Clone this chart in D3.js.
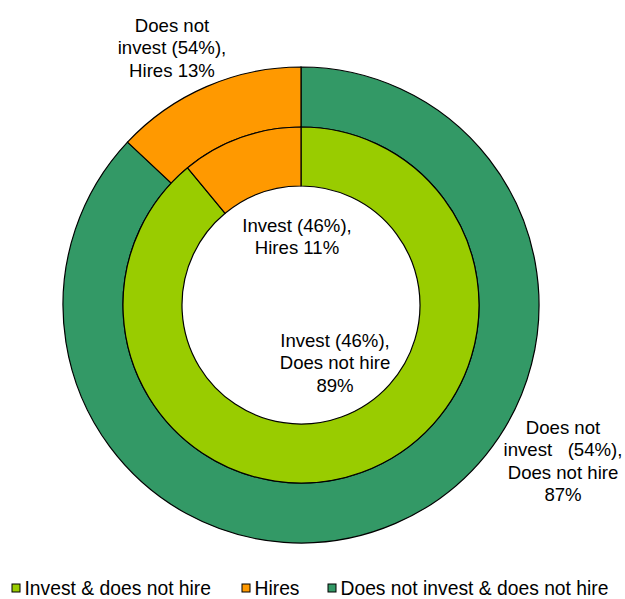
<!DOCTYPE html>
<html>
<head>
<meta charset="utf-8">
<script src="https://cdn.jsdelivr.net/npm/d3@7"></script>
<style>
  body { margin: 0; background: #fff; }
  text { font-family: "Liberation Sans", Arial, sans-serif; fill: #000; white-space: pre; }
</style>
</head>
<body>
<script>
// data
const categories = ["Invest & does not hire", "Hires", "Does not invest & does not hire"];
const innerValues = [89, 11];   // Invest (46%): does not hire, hires
const outerValues = [87, 13];   // Does not invest (54%): does not hire, hires
const innerCats = ["Invest & does not hire", "Hires"];
const outerCats = ["Does not invest & does not hire", "Hires"];

const labelLines = [
    {lines: ["Does not", "invest (54%),", "Hires 13%"], x: 172, y: 32},
    {lines: ["Invest (46%),", "Hires 11%"], x: 297, y: 232},
    {lines: ["Invest (46%),", "Does not hire", "89%"], x: 335, y: 347},
    {lines: ["Does not", "invest   (54%),", "Does not hire", "87%"], x: 563, y: 434}
];

const width = 625, height = 599;
const cx = 301, cy = 305;
const rOuter = 238, rMid = 178, rHole = 119;

const color = d3.scaleOrdinal()
    .domain(categories)
    .range(["#99CC00", "#FF9900", "#339966"]);

const svg = d3.select("body").append("svg")
    .attr("width", width)
    .attr("height", height);

const pie = d3.pie()
    .sort(null)
    .value(function (d) { return d.v; });

const g = svg.append("g")
    .attr("transform", "translate(" + cx + "," + cy + ")");

// outer ring
const outerArc = d3.arc().innerRadius(rMid).outerRadius(rOuter);
g.selectAll(".outer")
    .data(pie(outerValues.map(function (v, i) { return {v: v, c: outerCats[i]}; })))
    .enter().append("path")
    .attr("class", "outer")
    .attr("d", outerArc)
    .style("fill", function (d) { return color(d.data.c); })
    .style("stroke", "#000")
    .style("stroke-width", 1.2);

// inner ring
const innerArc = d3.arc().innerRadius(rHole).outerRadius(rMid);
g.selectAll(".inner")
    .data(pie(innerValues.map(function (v, i) { return {v: v, c: innerCats[i]}; })))
    .enter().append("path")
    .attr("class", "inner")
    .attr("d", innerArc)
    .style("fill", function (d) { return color(d.data.c); })
    .style("stroke", "#000")
    .style("stroke-width", 1.2);

// labels
labelLines.forEach(function (l) {
    const t = svg.append("text")
        .attr("text-anchor", "middle")
        .style("font-size", "18.6px");
    l.lines.forEach(function (s, i) {
        t.append("tspan")
            .attr("x", l.x)
            .attr("y", l.y + i * 22.3)
            .text(s);
    });
});

// legend
const legendX = [12, 242, 328];
const legend = svg.selectAll(".legend")
    .data(categories)
    .enter().append("g")
    .attr("class", "legend")
    .attr("transform", function (d, i) { return "translate(" + legendX[i] + ",584)"; });

legend.append("rect")
    .attr("width", 8)
    .attr("height", 8)
    .style("fill", function (d) { return color(d); })
    .style("stroke", "#000")
    .style("stroke-width", 1);

legend.append("text")
    .attr("x", 12.5)
    .attr("y", 11)
    .style("font-size", "19.3px")
    .text(function (d) { return d; });
</script>
</body>
</html>
